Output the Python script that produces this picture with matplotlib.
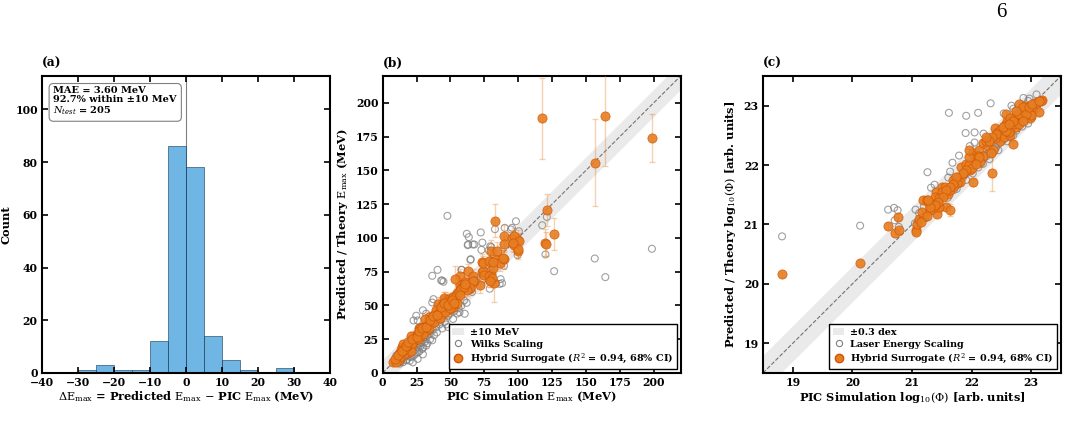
import numpy as np
import matplotlib
matplotlib.use("Agg")
import matplotlib.pyplot as plt
from matplotlib.patches import Patch
from matplotlib.lines import Line2D

plt.rcParams['font.family'] = ['DejaVu Serif']
plt.rcParams['font.weight'] = 'bold'
plt.rcParams['axes.labelweight'] = 'bold'
# math text in regular weight, like the original
plt.rcParams['mathtext.fontset'] = 'custom'
plt.rcParams['mathtext.rm'] = 'DejaVu Serif:weight=normal'
plt.rcParams['mathtext.it'] = 'DejaVu Serif:style=italic:weight=normal'
plt.rcParams['mathtext.bf'] = 'DejaVu Serif:weight=bold'
plt.rcParams['axes.linewidth'] = 1.5

# (a) residual histogram
hist_edges = [-30, -25, -20, -15, -10, -5, 0, 5, 10, 15, 20, 25, 30]
hist_counts = [1, 3, 1, 1, 12, 86, 78, 14, 5, 1, 0, 2]

# (b) maximum energy, MeV
b_hyb_pic = [117.8, 164.5, 198.8, 157.0, 121.7, 126.6, 120.0, 120.5, 83.0, 89.8,
             89.8, 95.2, 97.2, 100.0, 100.0, 80.0, 84.2, 79.5, 83.9, 86.4,
             89.8, 80.0, 82.5, 79.5, 81.5, 73.1, 73.1, 74.1, 74.6, 72.2,
             62.8, 63.3, 66.8, 67.7, 64.8, 59.9, 56.9, 56.9, 53.5, 55.0,
             53.5, 49.6, 45.7, 49.6, 40.7, 52.0, 47.1, 42.2, 38.8, 44.7,
             34.4, 39.8, 36.3, 32.4, 30.0, 26.5, 32.9, 29.0, 25.0, 21.1,
             24.0, 27.5, 19.1, 21.6, 16.7, 14.2, 15.2, 11.8, 10.3, 7.9,
             12.3, 17.7, 15.2, 96.9, 73.9, 78.3, 81.7, 100.4, 99.9, 96.0,
             89.1, 60.6, 67.0, 64.5, 57.7, 78.3, 80.7, 79.2, 62.6, 45.4,
             49.3, 51.3, 44.4, 39.5, 47.3, 37.0, 42.9, 31.1, 34.6, 27.2,
             29.7, 24.8, 22.8, 19.4, 17.4, 13.9, 15.4, 12.5, 10.0, 20.8,
             18.0, 20.0, 23.0, 26.0, 28.0, 31.0, 33.0, 35.0, 37.0, 41.0,
             43.0, 46.0, 48.0, 50.0, 52.0, 54.0, 56.0, 58.0, 60.0, 13.0,
             16.0, 22.0, 26.0, 30.0, 34.0, 38.0, 42.0, 46.0, 50.0, 55.0,
             9.0, 11.0, 14.0, 17.0, 19.0, 22.0, 25.0, 27.0, 29.0, 32.0,
             35.0, 37.0, 40.0, 43.0, 45.0, 48.0, 51.0, 53.0, 57.0, 61.0]
b_hyb = [188.6, 190.3, 174.0, 155.8, 120.6, 102.8, 96.5, 95.5, 112.9, 101.8,
         95.4, 99.8, 94.9, 98.6, 90.7, 90.7, 90.7, 83.3, 83.8, 81.4,
         84.3, 73.0, 66.6, 69.0, 77.9, 82.1, 74.7, 75.9, 72.7, 65.3,
         75.4, 66.8, 72.0, 68.5, 63.1, 63.6, 71.7, 65.1, 69.5, 59.2,
         55.0, 55.0, 55.0, 51.3, 51.3, 48.8, 48.8, 46.4, 43.9, 45.1,
         41.4, 41.4, 38.5, 36.5, 34.0, 33.5, 32.1, 31.1, 29.1, 27.1,
         24.7, 26.6, 21.7, 20.5, 18.0, 19.2, 15.5, 14.3, 11.3, 8.1,
         9.9, 14.8, 21.7, 101.6, 81.4, 83.3, 82.1, 97.6, 91.7, 96.1,
         85.3, 67.6, 68.0, 63.1, 63.1, 71.9, 70.5, 68.5, 61.1, 55.7,
         54.7, 50.3, 50.8, 46.4, 46.4, 41.4, 42.7, 39.9, 36.5, 33.5,
         30.1, 26.6, 24.2, 21.2, 18.3, 16.8, 13.8, 11.9, 7.9, 16.3,
         20.0, 22.0, 25.0, 28.0, 30.0, 33.0, 35.0, 37.0, 39.0, 44.0,
         47.0, 50.0, 52.0, 53.0, 56.0, 57.0, 60.0, 62.0, 64.0, 15.0,
         17.0, 22.0, 25.0, 29.0, 33.0, 38.0, 41.0, 45.0, 48.0, 52.0,
         10.0, 13.0, 16.0, 20.0, 23.0, 25.0, 27.0, 31.0, 33.0, 34.0,
         39.0, 42.0, 43.0, 49.0, 52.0, 50.0, 54.0, 52.0, 58.0, 66.0]
b_hyb_err = [30, 37, 18, 32, 12, 12, 10, 9, 12, 8,
             6, 6, 5, 7, 6, 8, 6, 6, 7, 6,
             7, 6, 14, 5, 6, 6, 5, 5, 5, 6,
             5, 5, 5, 4, 4, 4, 5, 4, 10, 4,
             4, 4, 5, 4, 5, 4, 4, 4, 4, 4,
             4, 4, 4, 3, 3, 3, 3, 3, 3, 3,
             3, 3, 3, 3, 3, 3, 3, 3, 2, 2,
             2, 2, 3, 6, 5, 5, 5, 6, 6, 6,
             6, 4, 4, 4, 4, 5, 5, 5, 4, 4,
             4, 4, 4, 4, 4, 4, 4, 3, 3, 3,
             3, 3, 3, 3, 3, 3, 3, 2, 2, 3,
             3, 3, 3, 3, 3, 3, 3, 3, 3, 4,
             4, 4, 4, 4, 4, 4, 4, 4, 4, 2,
             3, 3, 3, 3, 3, 3, 4, 4, 4, 4,
             2, 2, 3, 3, 3, 3, 3, 3, 3, 3,
             3, 4, 4, 4, 4, 4, 4, 4, 4, 4]
b_wilks_pic = [47.8, 62.1, 63.6, 72.4, 63.1, 66.5, 72.9, 78.3, 80.2, 90.1,
               95.5, 98.4, 89.6, 87.1, 88.1, 83.7, 65.0, 58.1, 40.5, 36.6,
               43.9, 44.9, 60.6, 24.8, 25.8, 36.6, 37.5, 41.0, 43.4, 48.3,
               50.8, 56.7, 58.1, 60.1, 29.7, 32.1, 22.8, 27.2, 31.6, 34.6,
               36.6, 29.7, 24.8, 29.2, 32.1, 25.8, 29.7, 19.9, 21.3, 16.4,
               17.4, 14.0, 12.5, 22.3, 25.8, 10.0, 11.5, 39.5, 41.9, 45.9,
               48.3, 34.6, 117.8, 121.2, 120.2, 126.6, 156.6, 164.4, 198.8, 82.9,
               73.6, 67.7, 62.8, 64.8, 79.5, 99.6, 100.6, 94.7, 58.4, 43.2,
               79.0, 86.4, 74.1, 18.0, 20.0, 23.0, 27.0, 30.0, 33.0, 35.0,
               38.0, 40.0, 44.0, 47.0, 52.0, 55.0, 15.0, 13.0, 20.0, 24.0,
               28.0, 31.0, 26.0, 11.0, 14.0, 17.0, 19.0, 21.0, 24.0, 26.0,
               28.0, 30.0, 33.0, 35.0, 37.0, 39.0, 42.0, 45.0, 49.0, 53.0,
               56.0, 62.0, 66.0]
b_wilks = [116.4, 103.1, 100.6, 104.1, 95.2, 95.2, 91.2, 90.8, 93.2, 107.5,
           107.5, 112.4, 79.4, 69.5, 66.5, 66.5, 84.3, 76.4, 76.4, 72.0,
           68.5, 67.6, 43.9, 42.4, 38.9, 52.2, 54.7, 49.3, 47.6, 42.4,
           46.4, 44.9, 49.8, 53.7, 46.4, 43.9, 38.9, 29.1, 26.6, 29.1,
           24.2, 24.2, 19.2, 17.8, 20.2, 15.3, 13.8, 14.3, 11.9, 11.9,
           9.4, 9.9, 6.9, 7.9, 10.4, 12.8, 13.8, 34.0, 36.0, 38.0,
           34.0, 34.0, 109.4, 115.6, 87.8, 75.4, 84.8, 71.0, 92.0, 106.5,
           96.6, 95.2, 94.7, 83.8, 93.9, 87.3, 105.0, 106.3, 76.4, 68.5,
           62.4, 66.0, 69.5, 10.0, 12.0, 13.0, 16.0, 19.0, 22.0, 25.0,
           28.0, 30.0, 33.0, 36.0, 40.0, 44.0, 8.0, 8.0, 9.0, 14.0,
           20.0, 23.0, 22.0, 9.0, 11.0, 13.0, 16.0, 17.0, 17.0, 19.0,
           22.0, 26.0, 28.0, 31.0, 32.0, 37.0, 39.0, 42.0, 44.0, 46.0,
           48.0, 52.0, 60.0]

# (c) log10 flux
c_hyb_pic = [18.82, 20.13, 20.60, 20.76, 20.72, 20.78, 21.06, 21.06, 21.09, 21.12,
             21.21, 21.16, 21.18, 21.26, 21.32, 21.40, 21.51, 21.45, 21.57, 21.63,
             21.42, 21.28, 21.38, 21.55, 21.61, 21.69, 21.77, 21.83, 21.91, 21.97,
             22.05, 22.03, 22.13, 22.19, 22.27, 22.36, 22.39, 22.47, 22.52, 22.58,
             22.65, 22.71, 22.75, 22.80, 22.91, 22.98, 23.03, 23.10, 23.18, 22.69,
             22.35, 22.03, 21.81, 21.64, 21.50, 21.46, 21.35, 23.14, 23.16, 22.45,
             22.55, 22.60, 22.70, 22.85, 22.95, 22.65, 22.40, 22.50, 22.20, 22.10,
             21.95, 21.85, 21.75, 21.70, 21.50, 21.45, 21.40, 21.30, 21.25, 21.15,
             22.00, 22.25, 22.55, 22.75, 22.90, 23.00, 22.80, 22.62, 22.33, 22.15,
             22.58, 22.64, 22.69, 22.80, 22.86, 22.91, 22.97, 22.75, 22.58, 22.52,
             22.41, 22.35, 22.30, 22.13, 22.08, 21.96, 21.91, 21.85, 21.74, 21.69,
             21.63, 21.57, 21.52, 21.43, 21.38, 21.30, 21.27, 21.96, 22.24, 22.63,
             22.86, 23.02, 23.14]
c_hyb = [20.16, 20.36, 20.97, 21.13, 20.85, 20.90, 20.91, 20.87, 21.00, 21.09,
         21.13, 21.21, 21.42, 21.42, 21.35, 21.55, 21.63, 21.30, 21.30, 21.25,
         21.18, 21.34, 21.46, 21.63, 21.52, 21.75, 21.80, 21.96, 22.02, 21.91,
         22.09, 22.20, 22.25, 22.38, 22.32, 22.25, 22.63, 22.41, 22.53, 22.69,
         22.60, 22.79, 22.64, 23.03, 22.93, 22.79, 22.92, 23.07, 23.10, 22.36,
         21.87, 21.71, 21.71, 21.58, 21.49, 21.30, 21.28, 22.89, 23.08, 22.55,
         22.48, 22.75, 22.70, 22.85, 22.95, 22.50, 22.45, 22.60, 22.15, 22.15,
         22.00, 21.85, 21.70, 21.65, 21.55, 21.45, 21.35, 21.25, 21.15, 21.05,
         21.95, 22.40, 22.65, 22.85, 23.00, 22.85, 22.70, 22.55, 22.20, 22.05,
         22.86, 22.80, 22.75, 22.86, 22.97, 22.86, 22.97, 22.91, 22.58, 22.64,
         22.52, 22.47, 22.41, 22.13, 22.02, 22.13, 21.91, 21.86, 21.80, 21.69,
         21.63, 21.58, 21.47, 21.38, 21.33, 21.30, 21.41, 22.25, 22.47, 22.69,
         22.75, 23.03, 23.08]
c_hyb_err = [0.04, 0.04, 0.05, 0.05, 0.04, 0.04, 0.06, 0.04, 0.04, 0.04,
             0.04, 0.04, 0.04, 0.04, 0.04, 0.04, 0.04, 0.04, 0.04, 0.10,
             0.04, 0.04, 0.04, 0.04, 0.04, 0.04, 0.04, 0.04, 0.04, 0.04,
             0.04, 0.04, 0.04, 0.04, 0.04, 0.04, 0.04, 0.04, 0.04, 0.04,
             0.04, 0.04, 0.04, 0.04, 0.04, 0.04, 0.04, 0.04, 0.04, 0.04,
             0.30, 0.06, 0.04, 0.04, 0.04, 0.04, 0.04, 0.04, 0.04, 0.04,
             0.04, 0.04, 0.04, 0.04, 0.04, 0.04, 0.04, 0.04, 0.04, 0.04,
             0.04, 0.04, 0.04, 0.04, 0.04, 0.04, 0.04, 0.04, 0.04, 0.04,
             0.04, 0.04, 0.04, 0.04, 0.04, 0.04, 0.04, 0.04, 0.04, 0.04,
             0.04, 0.04, 0.04, 0.04, 0.04, 0.04, 0.04, 0.04, 0.04, 0.04,
             0.04, 0.04, 0.04, 0.04, 0.04, 0.04, 0.04, 0.04, 0.04, 0.04,
             0.04, 0.04, 0.04, 0.04, 0.04, 0.04, 0.04, 0.04, 0.04, 0.04,
             0.04, 0.04, 0.04]
c_les_pic = [18.82, 20.13, 20.60, 20.70, 20.76, 20.71, 20.78, 21.26, 21.06, 21.12,
             21.38, 21.32, 21.64, 21.68, 21.79, 21.62, 21.91, 22.11, 22.32, 21.90,
             22.05, 22.20, 21.97, 22.05, 21.61, 22.54, 22.67, 22.87, 22.97, 23.09,
             23.11, 22.11, 22.19, 22.30, 22.41, 22.52, 22.63, 22.75, 22.80, 22.91,
             23.02, 22.02, 21.91, 21.80, 21.69, 21.58, 21.46, 21.35, 22.95, 23.05,
             22.70, 22.20, 22.30, 22.45, 22.60, 22.70, 22.85, 22.95, 23.10, 21.90,
             21.75, 21.60, 21.45, 21.20, 21.10, 22.25, 22.35, 22.45, 22.55, 22.65,
             22.75, 22.85, 22.95, 23.05, 21.95, 21.85, 21.70, 21.55, 21.40, 21.30,
             21.15, 21.05, 21.20, 22.15, 22.40]
c_les = [20.80, 20.98, 21.25, 21.28, 21.24, 21.07, 20.96, 21.88, 21.25, 21.19,
         21.67, 21.62, 21.89, 22.04, 22.16, 22.88, 22.83, 22.88, 23.04, 22.54,
         22.55, 22.53, 22.32, 22.38, 21.79, 22.87, 23.00, 23.13, 23.12, 23.19,
         23.02, 21.96, 22.02, 22.19, 22.30, 22.41, 22.47, 22.58, 22.69, 22.75,
         22.80, 21.86, 21.75, 21.69, 21.63, 21.52, 21.41, 21.36, 23.08, 23.05,
         22.95, 22.10, 22.10, 22.25, 22.40, 22.50, 22.65, 22.70, 22.95, 21.85,
         21.60, 21.45, 21.35, 21.15, 21.05, 22.15, 22.20, 22.35, 22.45, 22.55,
         22.62, 22.72, 22.82, 22.90, 21.90, 21.78, 21.58, 21.48, 21.30, 21.22,
         21.10, 21.02, 21.30, 22.05, 22.28]

orange = '#E67E22'
orange_edge = '#D35400'
blue = '#3498DB'
band_grey = '#D9D9D9'

fig = plt.figure(figsize=(10.68, 4.34), dpi=100)
ax_a = fig.add_axes([0.0393, 0.1406, 0.2697, 0.6843])
ax_b = fig.add_axes([0.3583, 0.1406, 0.2790, 0.6843])
ax_c = fig.add_axes([0.7144, 0.1406, 0.2790, 0.6843])

# page number of the paper this figure sits in
fig.text(0.9375, 0.972, '6', fontsize=15, fontweight='normal', family='Liberation Serif',
         ha='center', va='center')

label_fs = 8.2
tick_fs = 7.8


def style_ticks(ax):
    ax.tick_params(direction='in', top=True, right=True, length=4, width=1.2,
                   labelsize=tick_fs, pad=3)


# ---- (a)
edges = np.array(hist_edges)
ax_a.axvline(0, color='gray', lw=0.8, zorder=0)
ax_a.bar(edges[:-1], hist_counts, width=np.diff(edges), align='edge', color=blue,
         alpha=0.7, edgecolor='#1B3A57', linewidth=0.6)
ax_a.set_xlim(-40, 40)
ax_a.set_ylim(0, max(hist_counts) * 1.31)
ax_a.set_xticks(range(-40, 41, 10))
ax_a.set_yticks(range(0, 101, 20))
ax_a.set_ylabel('Count', fontsize=label_fs, labelpad=3)
ax_a.set_xlabel(r'$\Delta\mathrm{E}_{\rm max}$ = Predicted $\mathrm{E}_{\rm max}$ $-$ PIC $\mathrm{E}_{\rm max}$ (MeV)',
                fontsize=label_fs, labelpad=1)
ax_a.text(0.04, 0.965, 'MAE = 3.60 MeV\n92.7% within \u00b110 MeV\n$N_{test}$ = 205',
          transform=ax_a.transAxes, va='top', ha='left', fontsize=7.0, linespacing=1.0,
          bbox=dict(boxstyle='round,pad=0.45', facecolor='white', edgecolor='gray', lw=0.8))
ax_a.text(0.0, 1.02, '(a)', transform=ax_a.transAxes, fontsize=8.8, va='bottom')
style_ticks(ax_a)


def scatter_panel(ax, lims, band, hx, hy, herr, gx, gy, band_label, g_label):
    xs = np.array(lims)
    ax.fill_between(xs, xs - band, xs + band, color=band_grey, alpha=0.55, lw=0, zorder=0)
    ax.plot(xs, xs, ls='--', color='#555555', lw=0.8, alpha=0.8, zorder=1)
    ax.scatter(gx, gy, s=25, facecolors='none', edgecolors='gray', linewidths=0.8,
               alpha=0.75, zorder=2)
    ax.errorbar(hx, hy, yerr=herr, fmt='none', ecolor=orange, elinewidth=1, alpha=0.35,
                capsize=2, zorder=3)
    ax.scatter(hx, hy, s=44, color=orange, edgecolors=orange_edge, linewidths=0.5,
               alpha=0.9, zorder=4)
    ax.set_xlim(lims)
    ax.set_ylim(lims)
    handles = [Patch(facecolor=band_grey, alpha=0.55, edgecolor='none'),
               Line2D([], [], ls='none', marker='o', mfc='none', mec='gray', ms=4.5, mew=0.8),
               Line2D([], [], ls='none', marker='o', color=orange, mec=orange_edge, ms=6)]
    labels = [band_label, g_label, r'Hybrid Surrogate ($R^2$ = 0.94, 68% CI)']
    leg = ax.legend(handles, labels, loc='lower right', fontsize=6.9, fancybox=False,
                    framealpha=1, edgecolor='black', borderpad=0.4, handletextpad=0.6,
                    labelspacing=0.3, borderaxespad=0.4, handlelength=1.2)
    leg.get_frame().set_linewidth(1.0)
    leg.set_zorder(10)
    style_ticks(ax)


# ---- (b)
scatter_panel(ax_b, [0, 220], 10, b_hyb_pic, b_hyb, b_hyb_err, b_wilks_pic, b_wilks,
              '\u00b110 MeV', 'Wilks Scaling')
ax_b.set_xticks(range(0, 201, 25))
ax_b.set_yticks(range(0, 201, 25))
ax_b.set_xlabel(r'PIC Simulation $\mathrm{E}_{\rm max}$ (MeV)', fontsize=label_fs, labelpad=1)
ax_b.set_ylabel(r'Predicted / Theory $\mathrm{E}_{\rm max}$ (MeV)', fontsize=label_fs)
ax_b.text(0.0, 1.02, '(b)', transform=ax_b.transAxes, fontsize=8.8, va='bottom')

# ---- (c)
scatter_panel(ax_c, [18.5, 23.5], 0.3, c_hyb_pic, c_hyb, c_hyb_err, c_les_pic, c_les,
              '\u00b10.3 dex', 'Laser Energy Scaling')
ax_c.set_xticks(range(19, 24))
ax_c.set_yticks(range(19, 24))
ax_c.set_xlabel(r'PIC Simulation log$_{10}(\Phi)$ [arb. units]', fontsize=label_fs, labelpad=1)
ax_c.set_ylabel(r'Predicted / Theory log$_{10}(\Phi)$ [arb. units]', fontsize=label_fs)
ax_c.text(0.0, 1.02, '(c)', transform=ax_c.transAxes, fontsize=8.8, va='bottom')

fig.savefig('out.png', dpi=100)
